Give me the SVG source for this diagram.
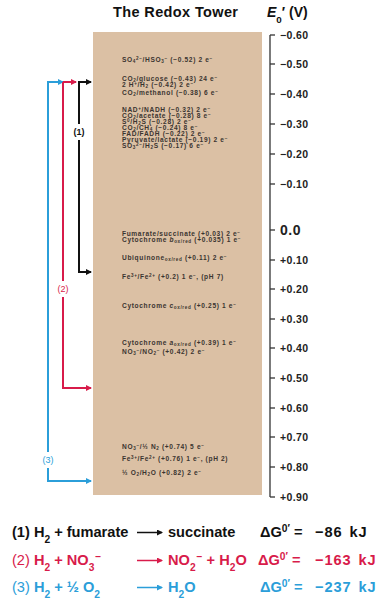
<svg xmlns="http://www.w3.org/2000/svg" width="379" height="600" viewBox="0 0 379 600">
<style>
text{font-family:"Liberation Sans",Arial,sans-serif;}
.t{font-size:6.6px;font-weight:bold;fill:#3a3430;letter-spacing:0.65px;}
.t .s{font-size:4.6px;baseline-shift:-0.8px;}
.t .p{font-size:4.6px;baseline-shift:1.9px;}
.ax{font-size:10.5px;font-weight:bold;fill:#222;letter-spacing:0.4px;}
.eq{font-size:14.6px;font-weight:bold;}
.kj{letter-spacing:0.9px;word-spacing:2px;}
.s{font-size:70%;baseline-shift:sub;}
.p{font-size:70%;baseline-shift:super;}
.k{fill:#111;} .r{fill:#d81b4a;} .b{fill:#2b9ed9;}
.lk{stroke:#111;stroke-width:2;fill:none;}
.lr{stroke:#d81b4a;stroke-width:2;fill:none;}
.lb{stroke:#2b9ed9;stroke-width:2;fill:none;}
.tick{stroke:#333;stroke-width:1.3;}
</style>
<defs>
<marker id="mk" markerWidth="6" markerHeight="6" refX="5" refY="3" orient="auto" markerUnits="userSpaceOnUse"><path d="M0,0 L6,3 L0,6 Z" fill="#111"/></marker>
<marker id="mr" markerWidth="6" markerHeight="6" refX="5" refY="3" orient="auto" markerUnits="userSpaceOnUse"><path d="M0,0 L6,3 L0,6 Z" fill="#d81b4a"/></marker>
<marker id="mb" markerWidth="6" markerHeight="6" refX="5" refY="3" orient="auto" markerUnits="userSpaceOnUse"><path d="M0,0 L6,3 L0,6 Z" fill="#2b9ed9"/></marker>
</defs>
<rect width="379" height="600" fill="#fff"/>
<g id="title">
<text x="113" y="17" font-size="14.5" font-weight="bold" fill="#111" textLength="125">The Redox Tower</text>
<text x="267" y="17" font-size="14" font-weight="bold" fill="#111"><tspan font-style="italic">E</tspan><tspan class="s">0</tspan>′ (V)</text>
</g>
<g id="tower">
<rect x="93" y="32" width="169" height="463" fill="#dbc0a4"/>
<text class="t" x="122" y="61.5">SO<tspan class="s">4</tspan><tspan class="p">2−</tspan>/HSO<tspan class="s">3</tspan><tspan class="p">−</tspan> (−0.52) 2 e<tspan class="p">−</tspan></text>
<text class="t" x="122" y="80.5">CO<tspan class="s">2</tspan>/glucose (−0.43) 24 e<tspan class="p">−</tspan></text>
<text class="t" x="122" y="86.5">2 H<tspan class="p">+</tspan>/H<tspan class="s">2</tspan> (−0.42) 2 e<tspan class="p">−</tspan></text>
<text class="t" x="122" y="94.5">CO<tspan class="s">2</tspan>/methanol (−0.38) 6 e<tspan class="p">−</tspan></text>
<text class="t" x="122" y="111.5">NAD<tspan class="p">+</tspan>/NADH (−0.32) 2 e<tspan class="p">−</tspan></text>
<text class="t" x="122" y="117.5">CO<tspan class="s">2</tspan>/acetate (−0.28) 8 e<tspan class="p">−</tspan></text>
<text class="t" x="122" y="123.5">S<tspan class="p">0</tspan>/H<tspan class="s">2</tspan>S (−0.28) 2 e<tspan class="p">−</tspan></text>
<text class="t" x="122" y="129.5">CO<tspan class="s">2</tspan>/CH<tspan class="s">4</tspan> (−0.24) 8 e<tspan class="p">−</tspan></text>
<text class="t" x="122" y="135.5">FAD/FADH (−0.22) 2 e<tspan class="p">−</tspan></text>
<text class="t" x="122" y="141.5">Pyruvate/lactate (−0.19) 2 e<tspan class="p">−</tspan></text>
<text class="t" x="122" y="147.5">SO<tspan class="s">3</tspan><tspan class="p">2−</tspan>/H<tspan class="s">2</tspan>S (−0.17) 6 e<tspan class="p">−</tspan></text>
<text class="t" x="122" y="235.5">Fumarate/succinate (+0.03) 2 e<tspan class="p">−</tspan></text>
<text class="t" x="122" y="241.5">Cytochrome <tspan font-style="italic">b</tspan><tspan class="s">ox/red</tspan> (+0.035) 1 e<tspan class="p">−</tspan></text>
<text class="t" x="122" y="259.5">Ubiquinone<tspan class="s">ox/red</tspan> (+0.11) 2 e<tspan class="p">−</tspan></text>
<text class="t" x="122" y="278.5">Fe<tspan class="p">3+</tspan>/Fe<tspan class="p">2+</tspan> (+0.2) 1 e<tspan class="p">−</tspan>, (pH 7)</text>
<text class="t" x="122" y="307.5">Cytochrome <tspan font-style="italic">c</tspan><tspan class="s">ox/red</tspan> (+0.25) 1 e<tspan class="p">−</tspan></text>
<text class="t" x="122" y="344.5">Cytochrome <tspan font-style="italic">a</tspan><tspan class="s">ox/red</tspan> (+0.39) 1 e<tspan class="p">−</tspan></text>
<text class="t" x="122" y="353.5">NO<tspan class="s">3</tspan><tspan class="p">−</tspan>/NO<tspan class="s">2</tspan><tspan class="p">−</tspan> (+0.42) 2 e<tspan class="p">−</tspan></text>
<text class="t" x="122" y="448.5">NO<tspan class="s">3</tspan><tspan class="p">−</tspan>/½ N<tspan class="s">2</tspan> (+0.74) 5 e<tspan class="p">−</tspan></text>
<text class="t" x="122" y="460.5">Fe<tspan class="p">3+</tspan>/Fe<tspan class="p">2+</tspan> (+0.76) 1 e<tspan class="p">−</tspan>, (pH 2)</text>
<text class="t" x="122" y="474.5">½ O<tspan class="s">2</tspan>/H<tspan class="s">2</tspan>O (+0.82) 2 e<tspan class="p">−</tspan></text>
</g>
<g id="axis">
<line class="tick" x1="270" y1="35" x2="270" y2="497"/>
<g class="tick">
<line x1="270" y1="35" x2="275" y2="35"/><line x1="270" y1="64" x2="275" y2="64"/><line x1="270" y1="94" x2="275" y2="94"/>
<line x1="270" y1="124" x2="275" y2="124"/><line x1="270" y1="154" x2="275" y2="154"/><line x1="270" y1="184" x2="275" y2="184"/>
<line x1="270" y1="230" x2="275" y2="230"/><line x1="270" y1="260" x2="275" y2="260"/><line x1="270" y1="289" x2="275" y2="289"/>
<line x1="270" y1="319" x2="275" y2="319"/><line x1="270" y1="348" x2="275" y2="348"/><line x1="270" y1="378" x2="275" y2="378"/>
<line x1="270" y1="408" x2="275" y2="408"/><line x1="270" y1="437" x2="275" y2="437"/><line x1="270" y1="467" x2="275" y2="467"/>
<line x1="270" y1="497" x2="275" y2="497"/>
</g>
<text class="ax" x="280" y="38.5">−0.60</text>
<text class="ax" x="280" y="67.5">−0.50</text>
<text class="ax" x="280" y="97.5">−0.40</text>
<text class="ax" x="280" y="127.5">−0.30</text>
<text class="ax" x="280" y="157.5">−0.20</text>
<text class="ax" x="280" y="187.5">−0.10</text>
<text x="280" y="235" font-size="14" font-weight="bold" fill="#222" letter-spacing="0.5">0.0</text>
<text class="ax" x="280" y="263.5">+0.10</text>
<text class="ax" x="280" y="292.5">+0.20</text>
<text class="ax" x="280" y="322.5">+0.30</text>
<text class="ax" x="280" y="351.5">+0.40</text>
<text class="ax" x="280" y="381.5">+0.50</text>
<text class="ax" x="280" y="411.5">+0.60</text>
<text class="ax" x="280" y="440.5">+0.70</text>
<text class="ax" x="280" y="470.5">+0.80</text>
<text class="ax" x="280" y="500.5">+0.90</text>
</g>
<g id="connectors">
<path class="lb" d="M48,82 V452"/><path class="lb" d="M48,468 V481 H91" marker-end="url(#mb)"/>
<path class="lb" d="M47,82 H63" marker-end="url(#mb)"/>
<path class="lr" d="M63,82 V281"/><path class="lr" d="M63,297 V388 H91" marker-end="url(#mr)"/>
<path class="lr" d="M63,82 H76" marker-end="url(#mr)"/>
<path class="lk" d="M79,82 V124"/><path class="lk" d="M79,140 V272 H91" marker-end="url(#mk)"/>
<path class="lk" d="M78,82 H91" marker-end="url(#mk)"/>
<text x="79" y="135" font-size="9" font-weight="bold" fill="#111" text-anchor="middle">(1)</text>
<text x="63" y="292" font-size="9" fill="#d81b4a" text-anchor="middle">(2)</text>
<text x="48" y="463" font-size="9" fill="#2b9ed9" text-anchor="middle">(3)</text>
</g>
<g id="equations">
<g class="eq k">
<text x="12" y="537">(1) H<tspan class="s">2</tspan> + fumarate</text>
<text x="168" y="537">succinate</text>
<text x="260" y="537">ΔG<tspan class="p">0′</tspan> =</text>
<text class="kj" x="315" y="537">−86 kJ</text>
</g>
<path d="M137,532.5 H162" stroke="#111" stroke-width="1.5" marker-end="url(#mk)"/>
<g class="eq r">
<text x="12" y="565"><tspan font-weight="normal">(2)</tspan> H<tspan class="s">2</tspan> + NO<tspan class="s">3</tspan><tspan class="p" dx="1">−</tspan></text>
<text x="168" y="565">NO<tspan class="s">2</tspan><tspan class="p" dx="1">−</tspan> + H<tspan class="s">2</tspan>O</text>
<text x="258" y="565">ΔG<tspan class="p">0′</tspan> =</text>
<text class="kj" x="315" y="565">−163 kJ</text>
</g>
<path d="M137,560.5 H162" stroke="#d81b4a" stroke-width="1.5" marker-end="url(#mr)"/>
<g class="eq b">
<text x="12" y="592"><tspan font-weight="normal">(3)</tspan> H<tspan class="s">2</tspan> + ½ O<tspan class="s">2</tspan></text>
<text x="168" y="592">H<tspan class="s">2</tspan>O</text>
<text x="260" y="592">ΔG<tspan class="p">0′</tspan> =</text>
<text class="kj" x="315" y="592">−237 kJ</text>
</g>
<path d="M137,587.5 H162" stroke="#2b9ed9" stroke-width="1.5" marker-end="url(#mb)"/>
</g>
</svg>
